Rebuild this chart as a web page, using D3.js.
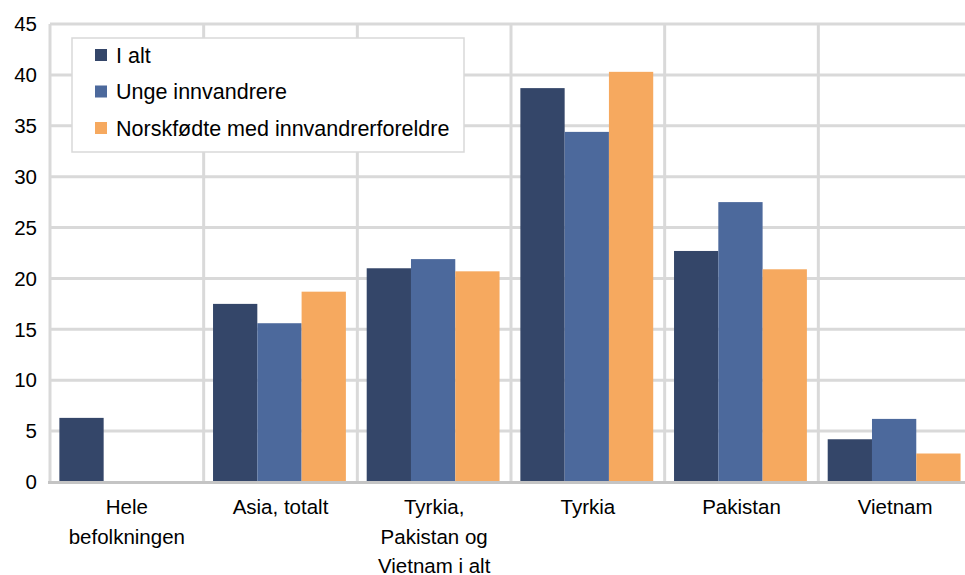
<!DOCTYPE html>
<html>
<head>
<meta charset="utf-8">
<script src="https://cdn.jsdelivr.net/npm/d3@7"></script>
<style>
  body { margin: 0; background: #fff; }
  text { font-family: "Liberation Sans", Arial, sans-serif; fill: #000; }
</style>
</head>
<body>
<svg width="965" height="575"></svg>
<script>
const categories = [
  ["Hele", "befolkningen"],
  ["Asia, totalt"],
  ["Tyrkia,", "Pakistan og", "Vietnam i alt"],
  ["Tyrkia"],
  ["Pakistan"],
  ["Vietnam"]
];
const series = ["I alt", "Unge innvandrere", "Norskfødte med innvandrerforeldre"];
const iAlt = [6.3, 17.5, 21.0, 38.7, 22.7, 4.2];
const unge = [null, 15.6, 21.9, 34.4, 27.5, 6.2];
const norskfodte = [null, 18.7, 20.7, 40.3, 20.9, 2.8];
const yTicks = [0, 5, 10, 15, 20, 25, 30, 35, 40, 45];
const colors = ["#344669", "#4c699c", "#f6a95f"];

const svg = d3.select("svg");
const plotLeft = 50, plotRight = 972, plotTop = 24, plotBottom = 482;
const fontSize = 20.5;
const catKeys = categories.map(c => c.join(" "));
const values = [iAlt, unge, norskfodte];

const x0 = d3.scaleBand().domain(catKeys).range([plotLeft, plotRight]).padding(0);
const x1 = d3.scaleBand().domain(series).range([0, x0.bandwidth()])
  .paddingInner(0).paddingOuter(0.235).align(0.45);
const y = d3.scaleLinear().domain([0, 45]).range([plotBottom, plotTop]);

// grid
const grid = svg.append("g").attr("stroke", "#d9d9d9").attr("stroke-width", 3);
grid.selectAll("line.h").data(yTicks.slice(1)).join("line")
  .attr("x1", plotLeft).attr("x2", plotRight)
  .attr("y1", d => y(d)).attr("y2", d => y(d));
grid.selectAll("line.v").data(catKeys.concat(["end"])).join("line")
  .attr("x1", d => d === "end" ? plotRight : x0(d))
  .attr("x2", d => d === "end" ? plotRight : x0(d))
  .attr("y1", y(45)).attr("y2", plotBottom);

// bars
series.forEach((s, i) => {
  svg.append("g").selectAll("rect")
    .data(catKeys.map((c, j) => ({ c, v: values[i][j] })).filter(d => d.v != null))
    .join("rect")
    .attr("x", d => x0(d.c) + x1(s))
    .attr("width", x1.bandwidth())
    .attr("y", d => y(d.v))
    .attr("height", d => y(0) - y(d.v))
    .attr("fill", colors[i]);
});

// x axis line
svg.append("line").attr("x1", plotLeft - 2).attr("x2", plotRight)
  .attr("y1", y(0) + 0.5).attr("y2", y(0) + 0.5)
  .attr("stroke", "#c4c4c4").attr("stroke-width", 3);

// y tick labels
svg.append("g").selectAll("text").data(yTicks).join("text")
  .attr("x", 37).attr("y", d => y(d)).attr("dy", "0.35em")
  .attr("text-anchor", "end").attr("font-size", fontSize)
  .text(d => d);

// x labels
const xl = svg.append("g").selectAll("text").data(categories).join("text")
  .attr("text-anchor", "middle").attr("font-size", fontSize);
xl.each(function(lines, j) {
  d3.select(this).selectAll("tspan").data(lines).join("tspan")
    .attr("x", x0(catKeys[j]) + x0.bandwidth() / 2)
    .attr("y", (d, k) => 514 + k * 29.5)
    .text(d => d);
});

// legend
const lg = svg.append("g");
lg.append("rect").attr("x", 72).attr("y", 38).attr("width", 392).attr("height", 114)
  .attr("fill", "#fff").attr("stroke", "#d9d9d9").attr("stroke-width", 1.5);
series.forEach((s, i) => {
  const cy = 55 + i * 36.5;
  lg.append("rect").attr("x", 95).attr("y", cy - 6).attr("width", 12).attr("height", 12)
    .attr("fill", colors[i]);
  lg.append("text").attr("x", 116).attr("y", cy).attr("dy", "0.35em")
    .attr("font-size", 21.5).text(s);
});
</script>
</body>
</html>
